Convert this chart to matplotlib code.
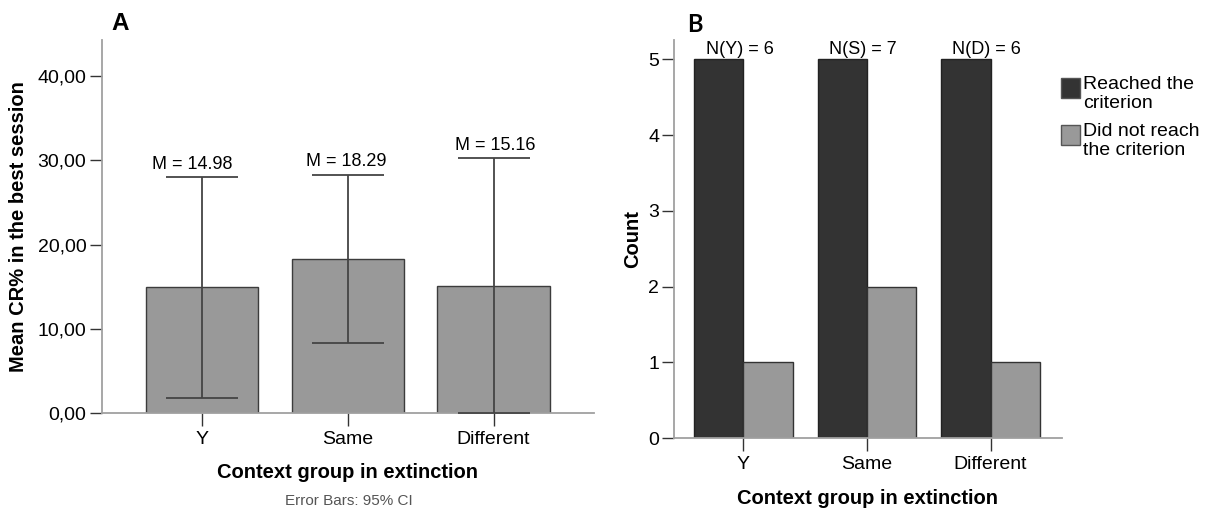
import numpy as np
import matplotlib.pyplot as plt
from matplotlib.patches import Rectangle

plt.rcParams['font.family'] = ['Liberation Sans', 'DejaVu Sans']

# panel A: mean CR% with 95% CI
groups = ['Y', 'Same', 'Different']
mean_cr = [14.98, 18.29, 15.16]
ci_low = [1.87, 8.30, 0.0]
ci_high = [28.06, 28.33, 30.30]
yticks_a = [0, 10, 20, 30, 40]
yticklabels_a = ['0,00', '10,00', '20,00', '30,00', '40,00']

# panel B: criterion counts
reached = [5, 5, 5]
not_reached = [1, 2, 1]
n_labels = ['N(Y) = 6', 'N(S) = 7', 'N(D) = 6']
legend_labels = ['Reached the\ncriterion', 'Did not reach\nthe criterion']

spine_col = '#a0a0a0'
tick_col = '#333333'
dark = '#333333'
grey = '#999999'

W, H = 1210, 511
fig = plt.figure(figsize=(W / 100, H / 100), dpi=100)
axA = fig.add_axes([0.084, 0.191, 0.407, 0.7306])
axB = fig.add_axes([0.5573, 0.1423, 0.32, 0.7795])

def style(ax):
    for s in ['top', 'right']:
        ax.spines[s].set_visible(False)
    for s in ['left', 'bottom']:
        ax.spines[s].set_color(spine_col)
        ax.spines[s].set_linewidth(1.3)
    ax.tick_params(direction='out', length=9, width=1, color=tick_col, labelsize=14)
    ax.tick_params(axis='y', pad=2)
    ax.tick_params(axis='x', pad=4)

# --- A ---
x = np.arange(len(groups))
axA.bar(x, mean_cr, width=0.77, color=grey, edgecolor='#3c3c3c', linewidth=1, zorder=2)
yerr = [np.array(mean_cr) - np.array(ci_low), np.array(ci_high) - np.array(mean_cr)]
axA.errorbar(x, mean_cr, yerr=yerr, fmt='none', ecolor='#444444', elinewidth=1.3,
             capsize=26, capthick=1.3, zorder=3)
label_dx = [-7, -1, 1]  # nudge of the mean labels, in points
for xi, m, hi, dx in zip(x, mean_cr, ci_high, label_dx):
    axA.annotate(f'M = {m:.2f}', (xi, hi), xytext=(dx, 3), textcoords='offset points',
                 ha='center', va='bottom', fontsize=13)
axA.set_xlim(-0.69, 2.69)
axA.set_ylim(0, 44.28)
axA.set_yticks(yticks_a)
axA.set_yticklabels(yticklabels_a)
axA.set_xticks(x)
axA.set_xticklabels(groups)
style(axA)
axA.set_xlabel('Context group in extinction', fontsize=14.5, fontweight='bold')
axA.xaxis.set_label_coords(0.5, -0.133)
axA.set_ylabel('Mean CR% in the best session', fontsize=14.5, fontweight='bold')
axA.yaxis.set_label_coords(-0.150, 0.5)

fig.text(349 / W, 1 - 501 / H, 'Error Bars: 95% CI', ha='center', va='center',
         fontsize=11, color='#555555')
fig.text(120 / W, 1 - 23 / H, 'A', ha='center', va='center', fontsize=17.5, fontweight='bold')

# --- B ---
w = 0.40
axB.bar(x - w / 2, reached, w, color=dark, edgecolor='#222222', linewidth=1, zorder=2)
axB.bar(x + w / 2, not_reached, w, color=grey, edgecolor='#333333', linewidth=1, zorder=2)
for xi, r, lab in zip(x, reached, n_labels):
    axB.annotate(lab, (xi - 0.03, r), xytext=(0, 1), textcoords='offset points',
                 ha='center', va='bottom', fontsize=13)
axB.set_xlim(-0.56, 2.575)
axB.set_ylim(0, 5.255)
axB.set_yticks(range(6))
axB.set_xticks(x)
axB.set_xticklabels(groups)
style(axB)
axB.set_xlabel('Context group in extinction', fontsize=14.5, fontweight='bold')
axB.xaxis.set_label_coords(0.5, -0.127)
axB.set_ylabel('Count', fontsize=14.5, fontweight='bold')
axB.yaxis.set_label_coords(-0.084, 0.5)

# legend: square swatch top-aligned with a two-line label
for i, (col, lab) in enumerate(zip([dark, grey], legend_labels)):
    top = 78 + 47 * i
    fig.patches.append(Rectangle((1061 / W, 1 - (top + 20) / H), 19 / W, 20 / H,
                                 facecolor=col, edgecolor='#555555', linewidth=1,
                                 transform=fig.transFigure))
    fig.text(1083 / W, 1 - (top - 2) / H, lab, ha='left', va='top', fontsize=14,
             linespacing=1.12)

fig.text(695 / W, 1 - 25 / H, 'B', ha='center', va='center', fontsize=17,
         fontweight='bold', family=['Lato', 'DejaVu Sans'])

fig.savefig('out.png', dpi=100)
